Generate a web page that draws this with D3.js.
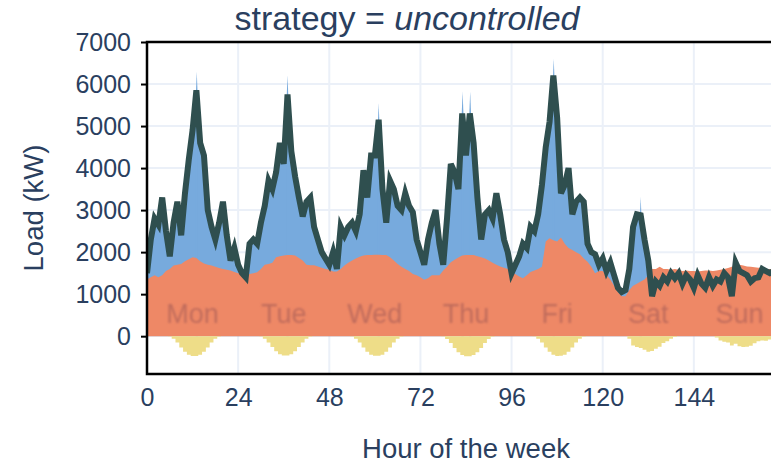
<!DOCTYPE html>
<html>
<head>
<meta charset="utf-8">
<script src="https://cdn.jsdelivr.net/npm/d3@7"></script>
<style>
  html, body { margin: 0; padding: 0; background: #fff; overflow: hidden; }
  svg { display: block; font-family: "Liberation Sans", Arial, sans-serif; }
</style>
</head>
<body>
<svg id="chart" width="771" height="465"></svg>
<script>
// hourly values for one week (hour 0 = Monday 00:00)
const baseLoad = [
  1350, 1400, 1450, 1400, 1450, 1550, 1600, 1680, 1700, 1720, 1780, 1830, 1880, 1860, 1780, 1730, 1700, 1680, 1650, 1620, 1600, 1580, 1560, 1530,
  1500, 1480, 1450, 1480, 1500, 1520, 1600, 1700, 1720, 1750, 1880, 1900, 1920, 1930, 1930, 1920, 1860, 1800, 1700, 1690, 1690, 1660, 1630, 1600,
  1580, 1540, 1540, 1600, 1680, 1750, 1800, 1850, 1890, 1920, 1930, 1930, 1940, 1940, 1930, 1930, 1880, 1800, 1720, 1650, 1600, 1550, 1480, 1450,
  1400, 1340, 1380, 1450, 1450, 1450, 1560, 1650, 1760, 1820, 1870, 1920, 1930, 1930, 1930, 1900, 1880, 1850, 1800, 1750, 1700, 1660, 1630, 1600,
  1530, 1480, 1420, 1380, 1450, 1530, 1560, 1600, 1650, 2250, 2330, 2280, 2250, 2350, 2200, 2100, 2050, 2000, 1950, 1850, 1770, 1650, 1500, 1550,
  1550, 1450, 1350, 1200, 1050, 950, 950, 1100, 1200, 1250, 1300, 1350, 1450, 1600, 1600, 1650, 1600, 1600, 1580, 1600, 1580, 1550, 1560, 1550,
  1550, 1540, 1550, 1560, 1560, 1550, 1560, 1580, 1600, 1620, 1650, 1680, 1700, 1680, 1660, 1650, 1640, 1630, 1620, 1600, 1600, 1590, 1580, 1570
];

const totalLoad = [
  1500, 2300, 2800, 2650, 3300, 2500, 1900, 2700, 3200, 2400, 3400, 4200, 4900, 5850, 4600, 4300, 3000, 2600, 2300, 2700, 3200, 2400, 1800, 2100,
  1700, 1500, 1400, 2200, 2300, 2200, 2700, 3100, 3700, 3500, 3900, 4600, 4100, 5750, 4400, 3800, 3300, 2850, 3200, 3300, 2600, 2300, 2000, 1850,
  1700, 2000, 1600, 2600, 2400, 2600, 2700, 2500, 2900, 3950, 3300, 4300, 4300, 5150, 3500, 2700, 3700, 3500, 3100, 3000, 3400, 3100, 2950, 2300,
  2000, 1700, 2300, 2700, 3000, 2200, 1700, 2800, 4100, 3900, 3500, 5300, 4300, 5300, 4600, 3300, 2300, 2900, 3000, 2800, 3400, 2900, 2300, 2000,
  1500, 1700, 1900, 2200, 2100, 2600, 2500, 2900, 3600, 4500, 5100, 6200, 5200, 3400, 3600, 4000, 2900, 3200, 3300, 3200, 2200, 2000, 1950, 1700,
  1850, 1550, 1750, 1450, 1150, 1050, 1100, 1600, 2600, 2900, 2880, 2300, 1800, 950, 1300, 1200, 1400, 1300, 1500, 1380, 1500, 1250, 1450, 1350,
  1150, 1450, 1250, 1150, 1400, 1200, 1350, 1300, 1500, 1400, 950, 1750, 1550, 1500, 1450, 1300, 1380, 1400, 1600, 1550, 1500, 1550, 1500, 1450
];

const pvGen = [
  0, 0, 0, 0, 0, 0, -10, -60, -150, -270, -370, -440, -470, -470, -440, -370, -270, -150, -60, -15, 0, 0, 0, 0,
  0, 0, 0, 0, 0, 0, -10, -60, -150, -260, -360, -430, -460, -460, -430, -360, -260, -150, -60, -15, 0, 0, 0, 0,
  0, 0, 0, 0, 0, 0, -10, -60, -150, -270, -370, -440, -465, -465, -440, -370, -270, -150, -60, -15, 0, 0, 0, 0,
  0, 0, 0, 0, 0, 0, -10, -70, -160, -280, -380, -450, -480, -480, -450, -380, -280, -160, -70, -15, 0, 0, 0, 0,
  0, 0, 0, 0, 0, 0, -10, -60, -150, -270, -370, -440, -470, -465, -440, -370, -270, -150, -60, -15, 0, 0, 0, 0,
  0, 0, 0, 0, 0, 0, 0, -60, -220, -260, -280, -320, -370, -350, -300, -250, -160, -120, -60, -20, 0, 0, 0, 0,
  0, 0, 0, 0, 0, 0, -30, -100, -130, -150, -220, -180, -240, -260, -250, -230, -170, -120, -100, -110, -80, -30, -10, 0
];

// short sub-hourly peaks of the charging load that stick out above the hourly line
const evPeaks = [[13.1, 6300], [37.0, 6210], [61.0, 5540], [83.1, 5820], [85.1, 5820], [107.1, 6610], [130.0, 3320]];

const dayNames = ['Mon', 'Tue', 'Wed', 'Thu', 'Fri', 'Sat', 'Sun'];
const dayLabelHours = [12, 36, 60, 84, 108, 132, 156];
const xTicks = [0, 24, 48, 72, 96, 120, 144];
const xGrid = [24, 48, 72, 96, 120, 144, 168];
const yTicks = [0, 1000, 2000, 3000, 4000, 5000, 6000, 7000];

const svg = d3.select('#chart');
const textColor = '#2a3f5f';

const x = d3.scaleLinear().domain([0, 168]).range([147, 785]);
const y = d3.scaleLinear().domain([-900, 7000]).range([374, 42]);

const defs = svg.append('defs');
defs.append('clipPath').attr('id', 'plotclip')
  .append('rect')
  .attr('x', x(0)).attr('y', y(7000))
  .attr('width', x(168) - x(0)).attr('height', y(-900) - y(7000));
defs.append('filter').attr('id', 'soft')
  .append('feGaussianBlur').attr('stdDeviation', 0.8);

const plot = svg.append('g').attr('clip-path', 'url(#plotclip)');

// grid
plot.append('g').selectAll('line').data(xGrid)
  .join('line')
  .attr('x1', d => x(d)).attr('x2', d => x(d))
  .attr('y1', y(7000)).attr('y2', y(-900))
  .attr('stroke', '#ebf0f8').attr('stroke-width', 2);
plot.append('g').selectAll('line').data(yTicks.slice(1))
  .join('line')
  .attr('x1', x(0)).attr('x2', x(168))
  .attr('y1', d => y(d)).attr('y2', d => y(d))
  .attr('stroke', '#ebf0f8').attr('stroke-width', 2);

const hours = totalLoad.map((d, i) => i);

// EV charging load, stacked on the base load
plot.append('path')
  .datum(hours)
  .attr('fill', '#77aadd')
  .attr('d', d3.area()
    .x(i => x(i)).y0(y(0)).y1(i => y(totalLoad[i])));

plot.append('g').selectAll('path').data(evPeaks)
  .join('path')
  .attr('fill', '#77aadd')
  .attr('d', d => d3.area()
    .x(p => x(p[0])).y0(y(0)).y1(p => y(p[1]))([[d[0] - 0.3, 0], [d[0] - 0.3, d[1] - 700], [d[0], d[1]], [d[0] + 0.3, d[1] - 700], [d[0] + 0.3, 0]]));

// base load
plot.append('path')
  .datum(hours)
  .attr('fill', '#ee8866')
  .attr('d', d3.area()
    .x(i => x(i)).y0(y(0)).y1(i => y(baseLoad[i])));

// PV generation (negative)
plot.append('path')
  .datum(hours)
  .attr('fill', '#eedd88')
  .attr('d', d3.area().curve(d3.curveStep)
    .x(i => x(i)).y0(y(0)).y1(i => y(pvGen[i])));

// day names
plot.append('g').selectAll('text').data(dayNames)
  .join('text')
  .attr('x', (d, i) => x(dayLabelHours[i]))
  .attr('y', y(520))
  .attr('text-anchor', 'middle')
  .attr('dominant-baseline', 'central')
  .attr('font-size', 27)
  .attr('fill', '#c06c5c')
  .attr('filter', 'url(#soft)')
  .text(d => d);

// total load line
plot.append('path')
  .datum(hours)
  .attr('fill', 'none')
  .attr('stroke', '#2f4f4f')
  .attr('stroke-width', 6)
  .attr('stroke-linejoin', 'miter')
  .attr('d', d3.line()
    .x(i => x(i)).y(i => y(totalLoad[i])));

// frame
svg.append('path')
  .attr('d', `M${x(168) + 5},${y(7000)} H${x(0)} V${y(-900)} H${x(168) + 5}`)
  .attr('fill', 'none').attr('stroke', '#000').attr('stroke-width', 2.5);

// axes
const yAxis = svg.append('g')
  .attr('transform', `translate(${x(0)},0)`)
  .call(d3.axisLeft(y).tickValues(yTicks).tickFormat(d3.format('d'))
    .tickSize(6).tickSizeOuter(0).tickPadding(10));
yAxis.select('.domain').remove();
yAxis.selectAll('line').attr('stroke', '#000').attr('stroke-width', 2);
yAxis.selectAll('text').attr('fill', textColor).attr('font-size', 25)
  .attr('font-family', '"Liberation Sans", Arial, sans-serif');

const xAxis = svg.append('g')
  .attr('transform', `translate(0,${y(-900)})`)
  .call(d3.axisBottom(x).tickValues(xTicks).tickSize(0).tickPadding(14));
xAxis.select('.domain').remove();
xAxis.selectAll('text').attr('fill', textColor).attr('font-size', 25)
  .attr('font-family', '"Liberation Sans", Arial, sans-serif');

// titles
svg.append('text')
  .attr('x', 407).attr('y', 30)
  .attr('text-anchor', 'middle')
  .attr('font-size', 34)
  .attr('fill', textColor)
  .call(t => {
    t.append('tspan').text('strategy = ');
    t.append('tspan').attr('font-style', 'italic').text('uncontrolled');
  });

svg.append('text')
  .attr('transform', `translate(43,${(y(7000) + y(-900)) / 2}) rotate(-90)`)
  .attr('text-anchor', 'middle')
  .attr('font-size', 27.5)
  .attr('fill', textColor)
  .text('Load (kW)');

svg.append('text')
  .attr('x', (x(0) + x(168)) / 2).attr('y', 458)
  .attr('text-anchor', 'middle')
  .attr('font-size', 27.5)
  .attr('fill', textColor)
  .text('Hour of the week');
</script>
</body>
</html>
